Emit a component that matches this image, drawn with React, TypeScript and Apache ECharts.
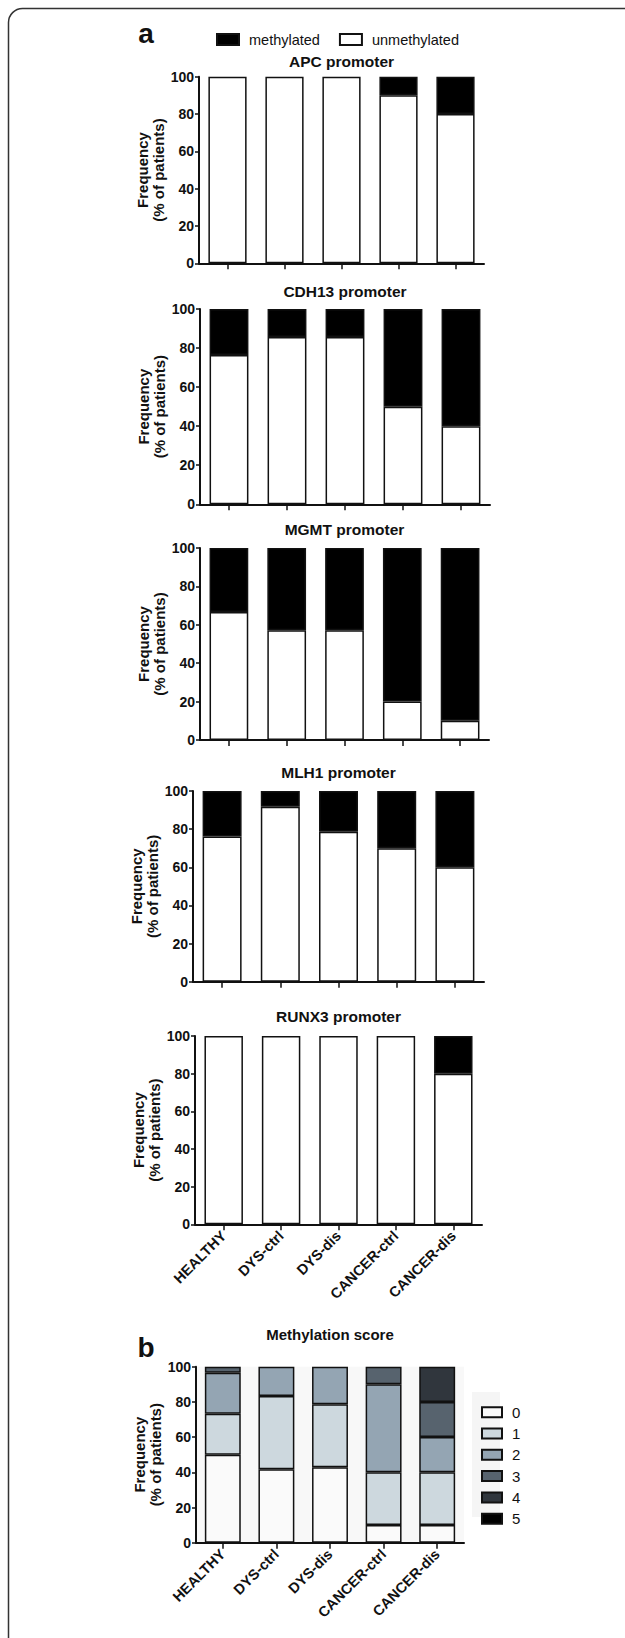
import React, { useEffect, useRef } from "react";
import * as echarts from "echarts";

const categories = ["HEALTHY", "DYS-ctrl", "DYS-dis", "CANCER-ctrl", "CANCER-dis"];
const yTicks = [0, 20, 40, 60, 80, 100];

// Panel a: % of patients (unmethylated / methylated)
const apcUnmethylated = [100, 100, 100, 90, 80];
const apcMethylated = [0, 0, 0, 10, 20];
const cdh13Unmethylated = [76.5, 85.7, 85.7, 50, 40];
const cdh13Methylated = [23.5, 14.3, 14.3, 50, 60];
const mgmtUnmethylated = [66.7, 57.1, 57.1, 20, 10];
const mgmtMethylated = [33.3, 42.9, 42.9, 80, 90];
const mlh1Unmethylated = [76.2, 91.7, 78.6, 70, 60];
const mlh1Methylated = [23.8, 8.3, 21.4, 30, 40];
const runx3Unmethylated = [100, 100, 100, 100, 80];
const runx3Methylated = [0, 0, 0, 0, 20];

// Panel b: methylation score distribution
const scoreNames = ["0", "1", "2", "3", "4", "5"];
const score0 = [50, 41.7, 42.9, 10, 10];
const score1 = [23.3, 41.7, 35.7, 30, 30];
const score2 = [23.3, 16.6, 21.4, 50, 20];
const score3 = [3.4, 0, 0, 10, 20];
const score4 = [0, 0, 0, 0, 20];
const score5 = [0, 0, 0, 0, 0];
const scoreColors = ["#fafafa", "#cdd8de", "#94a5b3", "#57636e", "#30363d", "#000000"];

const FONT = '"Liberation Sans", Arial, Helvetica, sans-serif';
const INK = "#111111";

const nz = (arr: number[]) => arr.map((v) => (v === 0 ? "-" : v));

const panelsA = [
  { title: "APC promoter", unmeth: apcUnmethylated, meth: apcMethylated, grid: { left: 199, width: 285, top: 76.7, height: 186.6 }, titleY: 61.7, labels: false },
  { title: "CDH13 promoter", unmeth: cdh13Unmethylated, meth: cdh13Methylated, grid: { left: 200, width: 290, top: 309, height: 195.3 }, titleY: 291, labels: false },
  { title: "MGMT promoter", unmeth: mgmtUnmethylated, meth: mgmtMethylated, grid: { left: 200, width: 289, top: 548, height: 192 }, titleY: 529.5, labels: false },
  { title: "MLH1 promoter", unmeth: mlh1Unmethylated, meth: mlh1Methylated, grid: { left: 193, width: 291, top: 791, height: 190.7 }, titleY: 772.3, labels: false },
  { title: "RUNX3 promoter", unmeth: runx3Unmethylated, meth: runx3Methylated, grid: { left: 195, width: 287, top: 1036, height: 188.3 }, titleY: 1016, labels: true },
];
const gridB = { left: 196, width: 268, top: 1366.7, height: 176 };
const scores = [score0, score1, score2, score3, score4, score5];

function buildOption() {
  const grids: any[] = [];
  const xAxes: any[] = [];
  const yAxes: any[] = [];
  const series: any[] = [];
  const graphics: any[] = [];

  const makeX = (i: number, labels: boolean) => ({
    type: "category",
    gridIndex: i,
    data: categories,
    axisLine: { show: true, lineStyle: { color: INK, width: 2 } },
    axisTick: { show: true, alignWithLabel: true, length: 6, lineStyle: { color: INK, width: 1.5 } },
    axisLabel: {
      show: labels,
      interval: 0,
      rotate: 45,
      margin: 9,
      color: INK,
      fontFamily: FONT,
      fontWeight: "bold",
      fontSize: 14.5,
    },
    splitLine: { show: false },
  });
  const makeY = (i: number) => ({
    type: "value",
    gridIndex: i,
    min: 0,
    max: 100,
    interval: 20,
    name: "Frequency\n(% of patients)",
    nameLocation: "middle",
    nameRotate: 90,
    nameGap: 30,
    nameTextStyle: { color: INK, fontFamily: FONT, fontWeight: "bold", fontSize: 15, lineHeight: 16, align: "center" },
    axisLine: { show: true, lineStyle: { color: INK, width: 2 } },
    axisTick: { show: true, length: 4, lineStyle: { color: INK, width: 1.5 } },
    axisLabel: {
      color: INK,
      fontFamily: FONT,
      fontWeight: "bold",
      fontSize: 14,
      margin: 5,
      customValues: yTicks,
    },
    splitLine: { show: false },
  });

  panelsA.forEach((p, i) => {
    grids.push({ ...p.grid, containLabel: false });
    xAxes.push(makeX(i, p.labels));
    yAxes.push(makeY(i));
    series.push({
      name: "unmethylated",
      type: "bar",
      xAxisIndex: i,
      yAxisIndex: i,
      stack: "a" + i,
      barWidth: "67%",
      data: nz(p.unmeth),
      itemStyle: { color: "#ffffff", borderColor: INK, borderWidth: 1.5 },
    });
    series.push({
      name: "methylated",
      type: "bar",
      xAxisIndex: i,
      yAxisIndex: i,
      stack: "a" + i,
      barWidth: "67%",
      data: nz(p.meth),
      itemStyle: { color: "#000000", borderColor: INK, borderWidth: 1.5 },
    });
    graphics.push({
      type: "text",
      x: p.grid.left + p.grid.width / 2,
      y: p.titleY,
      style: { text: p.title, fill: INK, font: `bold 15.5px ${FONT}`, align: "center", verticalAlign: "middle" },
    });
  });

  const bi = panelsA.length;
  grids.push({ ...gridB, show: true, backgroundColor: "#f8f8f8", borderWidth: 0 });
  xAxes.push(makeX(bi, true));
  yAxes.push(makeY(bi));
  scores.forEach((arr, k) => {
    series.push({
      name: scoreNames[k],
      type: "bar",
      xAxisIndex: bi,
      yAxisIndex: bi,
      stack: "b",
      barWidth: "67%",
      data: nz(arr),
      itemStyle: { color: scoreColors[k], borderColor: INK, borderWidth: 1.5 },
    });
  });
  graphics.push({
    type: "text",
    x: gridB.left + gridB.width / 2,
    y: 1334,
    style: { text: "Methylation score", fill: INK, font: `bold 15px ${FONT}`, align: "center", verticalAlign: "middle" },
  });

  // panel letters
  graphics.push({ type: "text", x: 146, y: 33.5, style: { text: "a", fill: INK, font: `bold 28px ${FONT}`, align: "center", verticalAlign: "middle" } });
  graphics.push({ type: "text", x: 146, y: 1347, style: { text: "b", fill: INK, font: `bold 28px ${FONT}`, align: "center", verticalAlign: "middle" } });

  // light backdrop behind the score legend
  graphics.push({ type: "rect", z: -1, shape: { x: 472, y: 1392, width: 28, height: 125 }, style: { fill: "#f5f5f5" } });

  // figure frame (top and left edges with a rounded corner)
  graphics.push({
    type: "rect",
    shape: { x: 8.5, y: 8.5, width: 900, height: 2000, r: 14 },
    style: { fill: "none", stroke: "#333333", lineWidth: 1.5 },
    silent: true,
  });

  return {
    animation: false,
    backgroundColor: "#ffffff",
    grid: grids,
    xAxis: xAxes,
    yAxis: yAxes,
    series,
    legend: [
      {
        data: ["methylated", "unmethylated"],
        left: 211,
        top: 27,
        orient: "horizontal",
        icon: "rect",
        itemWidth: 22,
        itemHeight: 11,
        itemGap: 19,
        selectedMode: false,
        textStyle: { color: INK, fontFamily: FONT, fontSize: 14.5, lineHeight: 14, padding: [0, 0, 0, 5] },
      },
      {
        data: scoreNames,
        left: 476,
        top: 1399.7,
        orient: "vertical",
        icon: "rect",
        itemWidth: 20,
        itemHeight: 10,
        itemGap: 6.3,
        selectedMode: false,
        textStyle: { color: INK, fontFamily: FONT, fontSize: 15, lineHeight: 14, padding: [0, 0, 0, 5] },
      },
    ],
    graphic: graphics,
  };
}

export default function App() {
  const ref = useRef<HTMLDivElement>(null);
  useEffect(() => {
    if (!ref.current) return;
    const chart = echarts.init(ref.current, null, { renderer: "svg" });
    chart.setOption(buildOption() as any);
    return () => chart.dispose();
  }, []);
  return (
    <div
      ref={ref}
      style={{ position: "absolute", left: 0, top: 0, width: 625, height: 1638, background: "#fff" }}
    />
  );
}
